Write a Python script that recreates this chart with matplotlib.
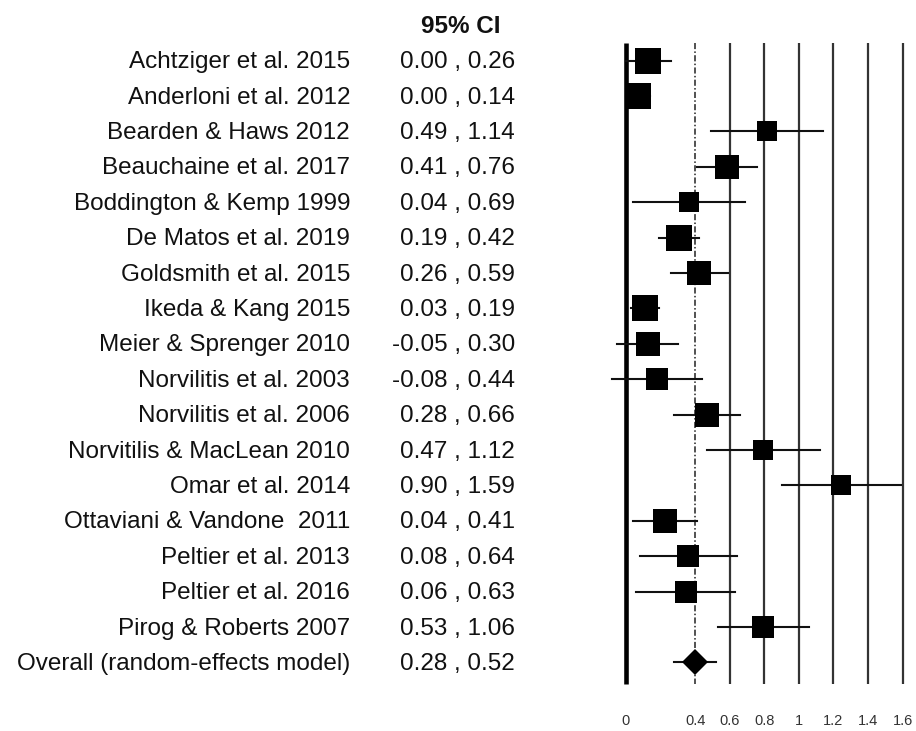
import matplotlib
matplotlib.use("Agg")
import matplotlib.pyplot as plt
import matplotlib.transforms as mtransforms

plt.rcParams['font.family'] = ['Liberation Sans', 'DejaVu Sans']

studies = [
    "Achtziger et al. 2015", "Anderloni et al. 2012", "Bearden & Haws 2012",
    "Beauchaine et al. 2017", "Boddington & Kemp 1999", "De Matos et al. 2019",
    "Goldsmith et al. 2015", "Ikeda & Kang 2015", "Meier & Sprenger 2010",
    "Norvilitis et al. 2003", "Norvilitis et al. 2006", "Norvitilis & MacLean 2010",
    "Omar et al. 2014", "Ottaviani & Vandone  2011", "Peltier et al. 2013",
    "Peltier et al. 2016", "Pirog & Roberts 2007",
]
lower = [0.00, 0.00, 0.49, 0.41, 0.04, 0.19, 0.26, 0.03, -0.05, -0.08, 0.28, 0.47,
         0.90, 0.04, 0.08, 0.06, 0.53]
upper = [0.26, 0.14, 1.14, 0.76, 0.69, 0.42, 0.59, 0.19, 0.30, 0.44, 0.66, 1.12,
         1.59, 0.41, 0.64, 0.63, 1.06]
estimate = [0.13, 0.07, 0.815, 0.585, 0.365, 0.305, 0.425, 0.11, 0.125, 0.18, 0.47,
            0.795, 1.245, 0.225, 0.36, 0.345, 0.795]
weight = [25.3, 25.3, 20.3, 23.7, 20.3, 25.3, 23.7, 25.3, 23.7, 22.3, 24.0, 20.3,
          20.3, 23.7, 22.0, 22.0, 22.0]

overall_label = "Overall (random-effects model)"
overall_lower = 0.28
overall_upper = 0.52
overall_est = 0.40

grid_x = [0.6, 0.8, 1.0, 1.2, 1.4, 1.6]
tick_vals = [0, 0.4, 0.6, 0.8, 1.0, 1.2, 1.4, 1.6]
tick_labels = ["0", "0.4", "0.6", "0.8", "1", "1.2", "1.4", "1.6"]

W, H = 916, 731
fig = plt.figure(figsize=(W / 100, H / 100), dpi=100)

# axes geometry in pixels
px_per_unit = 172.9
x0_px = 626.0
xmin, xmax = -0.1, 1.68
ax_left_px = x0_px + xmin * px_per_unit
ax_right_px = x0_px + xmax * px_per_unit
row0_px, row_step = 60.7, 35.4
top_px, bot_px = 30.0, 700.0
ax = fig.add_axes([ax_left_px / W, 1 - bot_px / H,
                   (ax_right_px - ax_left_px) / W, (bot_px - top_px) / H])
ax.set_xlim(xmin, xmax)
ax.set_ylim((bot_px - row0_px) / row_step, (top_px - row0_px) / row_step)

n = len(studies)
rows = list(range(n))
ov_row = n
ytop, ybot = -0.5, n + 0.6

ax.vlines(grid_x, ytop, ybot, color='#333333', lw=1.6, zorder=1)
ax.vlines([0], ytop, ybot, color='black', lw=3.3, zorder=2)
ax.vlines([overall_est], ytop, ybot, color='#222222', lw=1.1,
          linestyles=(0, (4, 1.5, 1, 1.5)), zorder=1)

for i in rows:
    ax.plot([lower[i], upper[i]], [i, i], color='#111111', lw=1.5, zorder=3)
    ax.plot([estimate[i]], [i], marker='s', color='black',
            markersize=weight[i] * 0.72, markeredgewidth=0, zorder=4)

ax.plot([overall_lower, overall_upper], [ov_row, ov_row], color='#111111', lw=1.5, zorder=3)
ax.plot([overall_est], [ov_row], marker='D', color='black', markersize=13.2,
        markeredgewidth=0, zorder=4)

ax.set_xticks(tick_vals)
ax.set_xticklabels(tick_labels, fontsize=10.5, color='#333333')
ax.tick_params(axis='x', length=0, pad=10)
ax.set_yticks([])
for s in ax.spines.values():
    s.set_visible(False)

trans = mtransforms.blended_transform_factory(fig.transFigure, ax.transData)
trans = trans + mtransforms.ScaledTranslation(0, -1.5 / 100, fig.dpi_scale_trans)
fs = 17.5
for i in rows:
    fig.text(350 / W, i, studies[i], transform=trans, ha='right', va='center',
             fontsize=fs, color='#111111')
    fig.text(515 / W, i, f"{lower[i]:.2f} , {upper[i]:.2f}", transform=trans,
             ha='right', va='center', fontsize=fs, color='#111111')
fig.text(350 / W, ov_row, overall_label, transform=trans, ha='right', va='center',
         fontsize=fs, color='#111111')
fig.text(515 / W, ov_row, f"{overall_lower:.2f} , {overall_upper:.2f}", transform=trans,
         ha='right', va='center', fontsize=fs, color='#111111')
fig.text(461 / W, -1.0, "95% CI", transform=trans, ha='center', va='center',
         fontsize=fs, fontweight='bold', color='#111111')

fig.savefig("out.png", dpi=100)
